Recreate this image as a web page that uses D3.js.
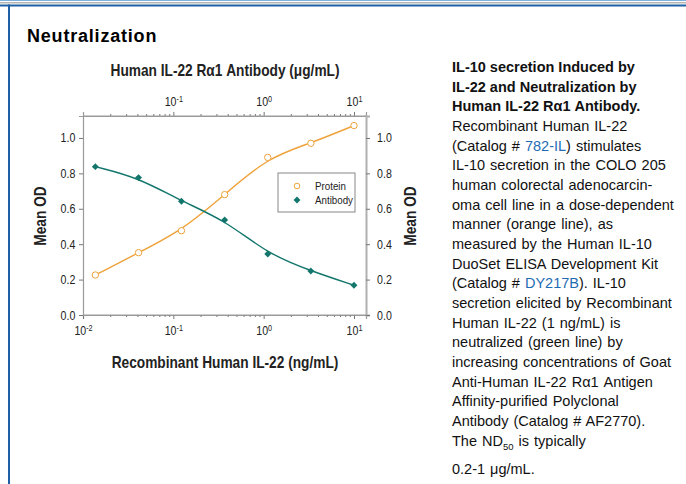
<!DOCTYPE html>
<html>
<head>
<meta charset="utf-8">
<script src="https://cdn.jsdelivr.net/npm/d3@7"></script>
<style>
  body { margin: 0; background: #fff; }
  svg { display: block; }
</style>
</head>
<body>
<svg width="686" height="484"></svg>
<script>
// data
var dose = [0.0137, 0.0412, 0.123, 0.370, 1.11, 3.33, 10];
var protein = [0.226, 0.352, 0.476, 0.680, 0.890, 0.970, 1.070];
var antibody = [0.838, 0.776, 0.642, 0.537, 0.345, 0.249, 0.168];
var yTicks = [0, 0.2, 0.4, 0.6, 0.8, 1.0];
var bottomTicks = [0.01, 0.1, 1, 10];
var topTicks = [0.1, 1, 10];
var seriesNames = ["Protein", "Antibody"];

var svg = d3.select("svg"),
    arial = "'Liberation Sans', Arial, sans-serif",
    squeeze = "scale(0.85,1)",   // no narrow font here, so squeeze Liberation Sans
    orange = "#eea23a",
    teal = "#12766c",
    axisGrey = "#9a9a9a";

// page frame
svg.append("rect").attr("x", 0).attr("y", 0).attr("width", 686).attr("height", 1).attr("fill", "#7fb0dc");
svg.append("rect").attr("x", 0).attr("y", 2).attr("width", 686).attr("height", 1.5).attr("fill", "#b5b5b5");
svg.append("rect").attr("x", 0).attr("y", 4.5).attr("width", 686).attr("height", 2).attr("fill", "#1f5fa6");
svg.append("rect").attr("x", 8).attr("y", 4.5).attr("width", 2).attr("height", 480).attr("fill", "#1f5fa6");

svg.append("text")
    .attr("x", 27).attr("y", 42)
    .attr("font-family", arial).attr("font-weight", "bold")
    .attr("font-size", 18).attr("letter-spacing", 0.8)
    .text("Neutralization");

// plot area
var pLeft = 83, pRight = 366, pTop = 116, pBottom = 315;

var x = d3.scaleLog().domain([0.01, Math.pow(10, 1.133)]).range([pLeft, pRight]);
var y = d3.scaleLinear().domain([0, 1.124]).range([pBottom, pTop]);

var minors = [];
[0.01, 0.1, 1, 10].forEach(d => {
    for (var k = 2; k <= 9; k++) if (d * k <= x.domain()[1]) minors.push(d * k);
});

function styleAxis(g) {
    g.selectAll("path.domain").attr("stroke", axisGrey).attr("stroke-width", 1.2);
    g.selectAll(".tick line").attr("stroke", "#777");
    g.selectAll(".tick text").attr("font-family", arial)
        .attr("font-size", 12.5).attr("fill", "#222").attr("transform", squeeze);
}

function powLabels(g) {
    g.selectAll(".tick text").each(function (d) {
        var t = d3.select(this).text(null);
        t.append("tspan").text("10");
        t.append("tspan").attr("font-size", 8.5).attr("dy", "-0.5em").text(Math.round(Math.log10(d)));
    });
}

// bottom axis
var xb = svg.append("g").attr("transform", "translate(0," + pBottom + ")")
    .call(d3.axisBottom(x).tickValues(bottomTicks).tickSize(4).tickPadding(7).tickFormat(d => d));
powLabels(xb);
styleAxis(xb);
svg.append("g").attr("transform", "translate(0," + pBottom + ")")
    .call(d3.axisBottom(x).tickValues(minors).tickSize(2).tickFormat(""))
    .call(g => g.select(".domain").remove())
    .call(g => g.selectAll("line").attr("stroke", "#777"));

// top axis
var xt = svg.append("g").attr("transform", "translate(0," + pTop + ")")
    .call(d3.axisTop(x).tickValues(topTicks).tickSize(4).tickPadding(6).tickFormat(d => d));
powLabels(xt);
styleAxis(xt);
svg.append("g").attr("transform", "translate(0," + pTop + ")")
    .call(d3.axisTop(x).tickValues(minors).tickSize(2).tickFormat(""))
    .call(g => g.select(".domain").remove())
    .call(g => g.selectAll("line").attr("stroke", "#777"));

// y axes
var yl = svg.append("g").attr("transform", "translate(" + pLeft + ",0)")
    .call(d3.axisLeft(y).tickValues(yTicks).tickSize(4).tickPadding(5).tickFormat(d3.format(".1f")));
styleAxis(yl);
var yr = svg.append("g").attr("transform", "translate(" + pRight + ",0)")
    .call(d3.axisRight(y).tickValues(yTicks).tickSize(4).tickPadding(9).tickFormat(d3.format(".1f")));
styleAxis(yr);
yr.select("path.domain").attr("stroke", "#b0b0b0").attr("stroke-width", 2);

// close the box on the outer ends
svg.append("line").attr("x1", pLeft).attr("x2", pRight).attr("y1", pTop).attr("y2", pTop).attr("stroke", axisGrey);
svg.append("line").attr("x1", pLeft).attr("x2", pRight).attr("y1", pBottom).attr("y2", pBottom).attr("stroke", axisGrey);

// axis titles
function title(sel, cx, cy, rot) {
    return sel.attr("transform", "translate(" + cx + "," + cy + ")" + (rot ? " rotate(-90)" : "") + " scale(0.83,1)")
        .attr("text-anchor", "middle")
        .attr("font-family", arial).attr("font-weight", "bold")
        .attr("font-size", 16.5).attr("fill", "#222");
}
svg.append("text").call(title, 225, 76, false)
    .text("Human IL-22 R\u03b11 Antibody (\u03bcg/mL)");
svg.append("text").call(title, 225, 368, false)
    .text("Recombinant Human IL-22 (ng/mL)");
svg.append("text").call(title, 46, 216, true).text("Mean OD");
svg.append("text").call(title, 416, 216, true).text("Mean OD");

// curves
var line = d3.line().x(d => x(d[0])).y(d => y(d[1])).curve(d3.curveBasis);
var proteinPts = d3.zip(dose, protein),
    antibodyPts = d3.zip(dose, antibody);

svg.append("path").datum(proteinPts).attr("d", line)
    .attr("fill", "none").attr("stroke", orange).attr("stroke-width", 1.4);
svg.append("path").datum(antibodyPts).attr("d", line)
    .attr("fill", "none").attr("stroke", teal).attr("stroke-width", 1.4);

svg.selectAll(".prot").data(proteinPts).enter().append("circle")
    .attr("cx", d => x(d[0])).attr("cy", d => y(d[1])).attr("r", 3.2)
    .attr("fill", "#fff").attr("stroke", orange).attr("stroke-width", 1);

var diamond = d3.symbol().type(d3.symbolSquare).size(24);
svg.selectAll(".ab").data(antibodyPts).enter().append("path")
    .attr("d", diamond)
    .attr("transform", d => "translate(" + x(d[0]) + "," + y(d[1]) + ") rotate(45)")
    .attr("fill", teal);

// legend
var lg = svg.append("g").attr("transform", "translate(278,173)");
lg.append("rect").attr("width", 77).attr("height", 39)
    .attr("fill", "#fff").attr("stroke", "#888").attr("stroke-width", 1);
lg.append("circle").attr("cx", 19).attr("cy", 13).attr("r", 2.8)
    .attr("fill", "#fff").attr("stroke", orange);
lg.append("path").attr("d", diamond).attr("transform", "translate(19,27) rotate(45)").attr("fill", teal);
seriesNames.forEach((n, i) => {
    lg.append("text").attr("transform", "translate(37," + (16.5 + i * 14) + ") " + squeeze)
        .attr("font-family", arial).attr("font-size", 11.5).attr("fill", "#222").text(n);
});

// caption
var blue = "#1f6cb3";
var caption = [
    [["IL-10 secretion Induced by"]],
    [["IL-22 and Neutralization by"]],
    [["Human IL-22 R\u03b11 Antibody."]],
    [["Recombinant Human IL-22"]],
    [["(Catalog # "], ["782-IL", "link"], [") stimulates"]],
    [["IL-10 secretion in the COLO 205"]],
    [["human colorectal adenocarcin-"]],
    [["oma cell line in a dose-dependent"]],
    [["manner (orange line), as"]],
    [["measured by the Human IL-10"]],
    [["DuoSet ELISA Development Kit"]],
    [["(Catalog # "], ["DY217B", "link"], ["). IL-10"]],
    [["secretion elicited by Recombinant"]],
    [["Human IL-22 (1 ng/mL) is"]],
    [["neutralized (green line) by"]],
    [["increasing concentrations of Goat"]],
    [["Anti-Human IL-22 R\u03b11 Antigen"]],
    [["Affinity-purified Polyclonal"]],
    [["Antibody (Catalog # AF2770)."]],
    [["The ND"], ["50", "sub"], [" is typically"]],
    [["0.2-1 \u03bcg/mL."]]
];
caption.forEach((parts, i) => {
    var yy = 72 + i * 19.66 + (i === 20 ? 9 : 0);
    var t = svg.append("text").attr("x", 452).attr("y", yy)
        .attr("font-family", arial).attr("font-size", 14.5).attr("fill", "#111")
        .attr("font-weight", i < 3 ? "bold" : "normal")
        .attr("word-spacing", i < 3 ? 0 : 1);
    parts.forEach((p, j) => {
        var s = t.append("tspan").text(p[0]);
        if (p[1] === "link") s.attr("fill", blue);
        if (p[1] === "sub") s.attr("font-size", 9.5).attr("dy", 4);
        if (j > 0 && parts[j - 1][1] === "sub") s.attr("dy", -4);
    });
});
</script>
</body>
</html>
